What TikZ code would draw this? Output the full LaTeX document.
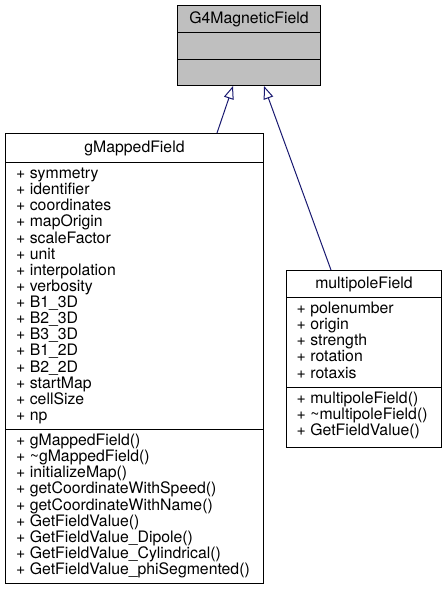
\documentclass[tikz,border=0pt]{standalone}
\usepackage{fontspec}
\setmainfont{TeX Gyre Heros}
\usetikzlibrary{arrows.meta}
\definecolor{boxgray}{RGB}{191,191,191}
\definecolor{edgeblue}{RGB}{25,25,112}
\tikzset{
  cls/.style={draw=black, line width=1pt, inner sep=0pt, anchor=north west,
    text height=11.4pt, text depth=3.3pt, font=\fontsize{15.8}{16.14}\selectfont},
  member/.style={anchor=west, inner sep=0pt, text height=11.4pt, text depth=3.3pt,
    font=\fontsize{15.8}{16.14}\selectfont},
  inherit/.style={draw=edgeblue, line width=1pt, -{Triangle[open,length=13pt,width=10pt]}}
}
\begin{document}
\begin{tikzpicture}[x=1pt,y=-1pt]
\useasboundingbox (0,0) rectangle (446,589);
% base class
\node[cls, fill=boxgray, minimum width=143pt, minimum height=27pt] (g4name) at (177,5) {G4MagneticField};
\node[cls, fill=boxgray, minimum width=143pt, minimum height=27pt] (g4attr) at (177,32) {};
\node[cls, fill=boxgray, minimum width=143pt, minimum height=26pt] (g4meth) at (177,59) {};
% gMappedField
\node[cls, minimum width=258pt, minimum height=29pt] (gmname) at (5,133) {gMappedField};
\node[cls, minimum width=258pt, minimum height=267pt] (gmattr) at (5,162) {};
\node[cls, minimum width=258pt, minimum height=154pt] (gmmeth) at (5,429) {};
\foreach \m [count=\i from 0] in {symmetry,identifier,coordinates,mapOrigin,scaleFactor,unit,interpolation,verbosity,B1\_3D,B2\_3D,B3\_3D,B1\_2D,B2\_2D,startMap,cellSize,np}
  \node[member] (gma\i) at (16,162+12.4+16.14*\i) {+ \m};
\foreach \m [count=\i from 0] in {gMappedField(),\textasciitilde gMappedField(),initializeMap(),getCoordinateWithSpeed(),getCoordinateWithName(),GetFieldValue(),GetFieldValue\_Dipole(),GetFieldValue\_Cylindrical(),GetFieldValue\_phiSegmented()}
  \node[member] (gmm\i) at (16,429+12.4+16.14*\i) {+ \m};
% multipoleField
\node[cls, minimum width=155pt, minimum height=27pt] (mpname) at (286,270) {multipoleField};
\node[cls, minimum width=155pt, minimum height=90pt] (mpattr) at (286,297) {};
\node[cls, minimum width=155pt, minimum height=60pt] (mpmeth) at (286,387) {};
\foreach \m [count=\i from 0] in {polenumber,origin,strength,rotation,rotaxis}
  \node[member] (mpa\i) at (296.5,297+12.4+16.14*\i) {+ \m};
\foreach \m [count=\i from 0] in {multipoleField(),\textasciitilde multipoleField(),GetFieldValue()}
  \node[member] (mpm\i) at (296.5,387+12.4+16.14*\i) {+ \m};
% inheritance
\draw[inherit] ([xshift=212pt]gmname.north west) -- ([xshift=56pt]g4meth.south west);
\draw[inherit] ([xshift=45pt]mpname.north west) -- ([xshift=87pt]g4meth.south west);
\end{tikzpicture}
\end{document}
